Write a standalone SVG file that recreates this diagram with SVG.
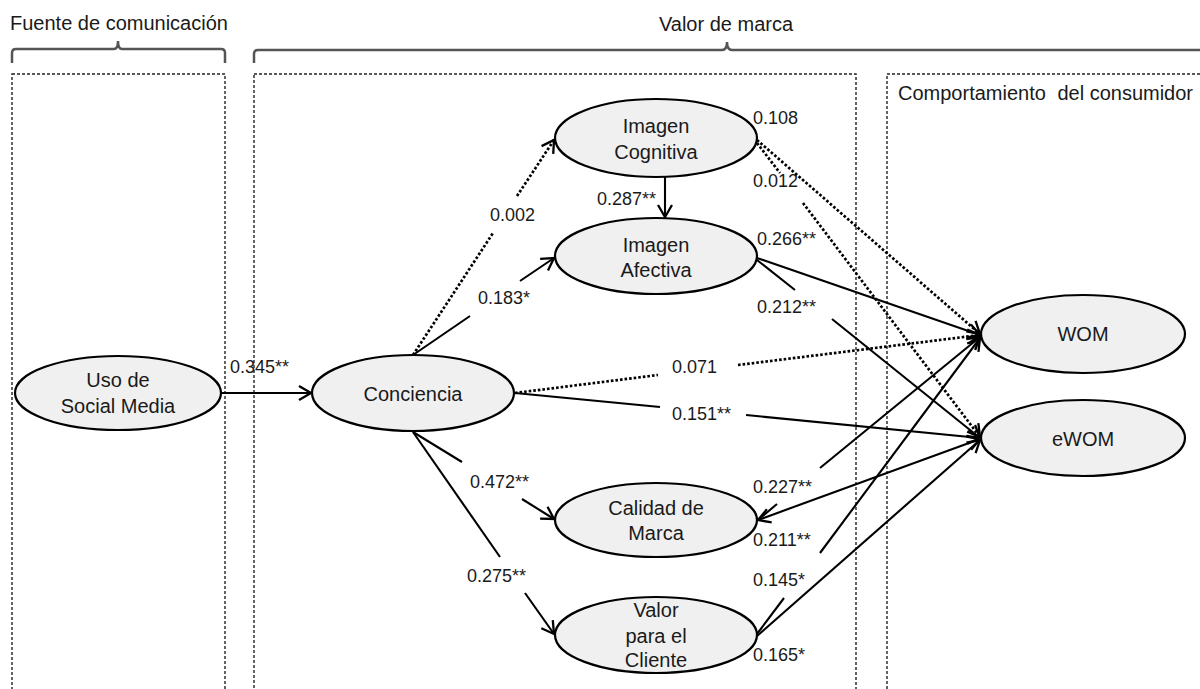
<svg xmlns="http://www.w3.org/2000/svg" width="1200" height="689" viewBox="0 0 1200 689">
<defs>
<style>
text{font-family:"Liberation Sans",Arial,sans-serif;fill:#1a1a1a}
.hdr{font-size:20px}
.nt{font-size:20px;text-anchor:middle}
.lb{font-size:18px}
.box{fill:none;stroke:#222;stroke-width:1.4;stroke-dasharray:3 2}
.brace{fill:none;stroke:#555;stroke-width:2.5}
.node{fill:#f0f0f0;stroke:#000;stroke-width:2.2}
.s{fill:none;stroke:#000;stroke-width:2.1}
.d{fill:none;stroke:#000;stroke-width:2.7;stroke-dasharray:2.6 2}
</style>
<marker id="ah" markerUnits="userSpaceOnUse" markerWidth="30" markerHeight="30" refX="0" refY="0" viewBox="-15 -15 30 30" orient="auto-start-reverse">
<path d="M-12,-7 L0,0 L-12,7" fill="none" stroke="#000" stroke-width="2.3" stroke-dasharray="none"/>
</marker>
</defs>

<g id="frames">
<rect class="box" x="12" y="74" width="213" height="640"/>
<rect class="box" x="254" y="74" width="602" height="640"/>
<rect class="box" x="887" y="74" width="330" height="640"/>
<path class="brace" d="M12,63 V53 Q12,49 16,49 H114 Q118,49 118,41 Q118,49 122,49 H221 Q225,49 225,53 V63"/>
<path class="brace" d="M254,63 V54 Q254,50 258,50 H722 Q727,50 727,42 Q727,50 732,50 H1205"/>
<text class="hdr" x="10" y="30">Fuente de comunicación</text>
<text class="hdr" x="726" y="31" text-anchor="middle">Valor de marca</text>
<text class="hdr" x="898" y="100">Comportamiento<tspan dx="6"> del consumidor</tspan></text>
</g>

<g id="connectors">
<line class="s" x1="221" y1="393" x2="311" y2="393" marker-end="url(#ah)"/>
<line class="d" x1="413" y1="355" x2="493" y2="233"/>
<line class="d" x1="517" y1="196" x2="554" y2="140" marker-end="url(#ah)"/>
<line class="s" x1="413" y1="355" x2="470" y2="316"/>
<line class="s" x1="520" y1="281" x2="554" y2="258" marker-end="url(#ah)"/>
<line class="s" x1="665" y1="177" x2="665" y2="217" marker-end="url(#ah)"/>
<line class="s" x1="413" y1="432" x2="462" y2="462"/>
<line class="s" x1="522" y1="499" x2="554" y2="519" marker-end="url(#ah)"/>
<line class="s" x1="413" y1="432" x2="500" y2="557"/>
<line class="s" x1="525" y1="593" x2="554" y2="634" marker-end="url(#ah)"/>
<line class="d" x1="515" y1="393" x2="658" y2="375"/>
<line class="d" x1="738" y1="365" x2="980" y2="335" marker-end="url(#ah)"/>
<line class="s" x1="515" y1="393" x2="660" y2="407"/>
<line class="s" x1="746" y1="415" x2="980" y2="438" marker-end="url(#ah)"/>
<line class="d" x1="757" y1="140" x2="980" y2="334" marker-end="url(#ah)"/>
<line class="d" x1="757" y1="143" x2="780" y2="173"/>
<line class="d" x1="803" y1="203" x2="980" y2="437" marker-end="url(#ah)"/>
<line class="s" x1="757" y1="258" x2="980" y2="335" marker-end="url(#ah)"/>
<line class="s" x1="757" y1="260" x2="795" y2="290"/>
<line class="s" x1="832" y1="319" x2="980" y2="438" marker-end="url(#ah)"/>
<line class="s" x1="758" y1="520" x2="777" y2="504"/>
<line class="s" x1="820" y1="468" x2="980" y2="337" marker-end="url(#ah)"/>
<line class="s" x1="758" y1="520" x2="980" y2="439" marker-start="url(#ah)" marker-end="url(#ah)"/>
<line class="s" x1="757" y1="634" x2="784" y2="598"/>
<line class="s" x1="820" y1="553" x2="980" y2="338" marker-end="url(#ah)"/>
<line class="s" x1="757" y1="636" x2="980" y2="440" marker-end="url(#ah)"/>
</g>

<g id="labels">
<text class="lb" x="230" y="373">0.345**</text>
<text class="lb" x="490" y="221">0.002</text>
<text class="lb" x="597" y="205">0.287**</text>
<text class="lb" x="478" y="304">0.183*</text>
<text class="lb" x="753" y="124">0.108</text>
<text class="lb" x="753" y="187">0.012</text>
<text class="lb" x="757" y="245">0.266**</text>
<text class="lb" x="757" y="313">0.212**</text>
<text class="lb" x="672" y="373">0.071</text>
<text class="lb" x="672" y="420">0.151**</text>
<text class="lb" x="470" y="488">0.472**</text>
<text class="lb" x="467" y="582">0.275**</text>
<text class="lb" x="753" y="493">0.227**</text>
<text class="lb" x="753" y="546">0.211**</text>
<text class="lb" x="753" y="586">0.145*</text>
<text class="lb" x="753" y="661">0.165*</text>
</g>

<g id="uso">
<ellipse class="node" cx="118" cy="393" rx="103" ry="37"/>
<text class="nt" x="118" y="387">Uso de</text>
<text class="nt" x="118" y="413">Social Media</text>
</g>
<g id="conciencia">
<ellipse class="node" cx="413" cy="393" rx="101" ry="38"/>
<text class="nt" x="413" y="401">Conciencia</text>
</g>
<g id="cognitiva">
<ellipse class="node" cx="656" cy="138" rx="101" ry="39"/>
<text class="nt" x="656" y="133">Imagen</text>
<text class="nt" x="656" y="159">Cognitiva</text>
</g>
<g id="afectiva">
<ellipse class="node" cx="656" cy="256" rx="101" ry="38"/>
<text class="nt" x="656" y="252">Imagen</text>
<text class="nt" x="656" y="277">Afectiva</text>
</g>
<g id="calidad">
<ellipse class="node" cx="656" cy="520" rx="101" ry="37"/>
<text class="nt" x="656" y="515">Calidad de</text>
<text class="nt" x="656" y="540">Marca</text>
</g>
<g id="valor">
<ellipse class="node" cx="656" cy="635" rx="101" ry="38"/>
<text class="nt" x="656" y="617">Valor</text>
<text class="nt" x="656" y="643">para el</text>
<text class="nt" x="656" y="667">Cliente</text>
</g>
<g id="wom">
<ellipse class="node" cx="1083" cy="334" rx="102" ry="39"/>
<text class="nt" x="1083" y="341">WOM</text>
</g>
<g id="ewom">
<ellipse class="node" cx="1083" cy="438" rx="102" ry="38"/>
<text class="nt" x="1083" y="446">eWOM</text>
</g>
</svg>
